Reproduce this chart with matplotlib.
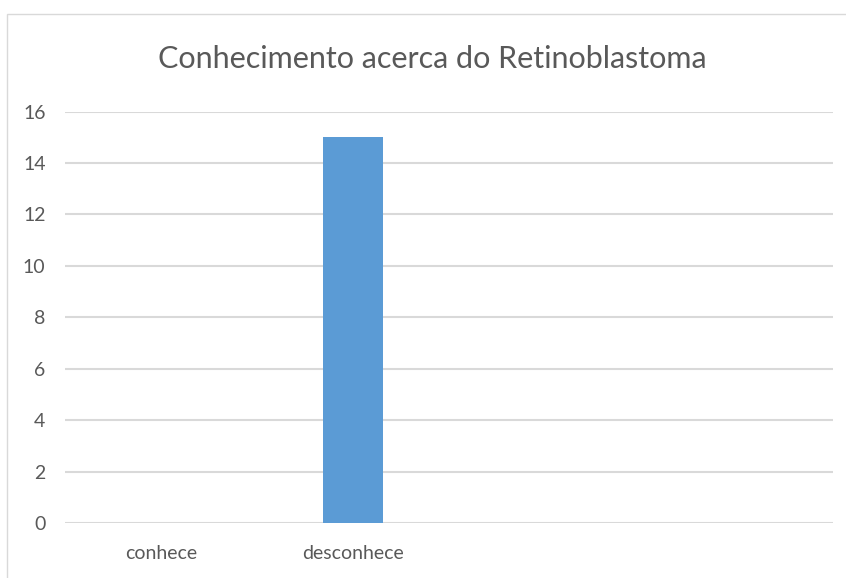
import matplotlib.pyplot as plt
from matplotlib.patches import Rectangle

# data
categories = ['conhece', 'desconhece', '', '']
values = [0, 15, 0, 0]
y_ticks = [0, 2, 4, 6, 8, 10, 12, 14, 16]
title = 'Conhecimento acerca do Retinoblastoma'

plt.rcParams['font.family'] = ['Lato', 'DejaVu Sans']

fig = plt.figure(figsize=(8.46, 5.78), dpi=100)
ax = fig.add_axes([0.0768, 0.0952, 0.9078, 0.7118])

# chart border (light gray, runs off the right and bottom)
fig.patches.append(Rectangle((7 / 846, -0.01), 1.0, 1 - 14 / 578 + 0.01,
                             transform=fig.transFigure, fill=False,
                             edgecolor='#d9d9d9', linewidth=1.0))

x = range(len(categories))
ax.bar(x, values, width=0.313, color='#5b9bd5', zorder=3)

ax.set_xlim(-0.5, len(categories) - 0.5)
ax.set_ylim(0, 16)
ax.set_yticks(y_ticks)
ax.set_xticks(list(x))
ax.set_xticklabels(categories)

ax.grid(axis='y', color='#d9d9d9', linewidth=1.5, zorder=0)
for s in ax.spines.values():
    s.set_visible(False)
ax.tick_params(axis='both', length=0, colors='#595959', labelsize=14)
ax.tick_params(axis='y', pad=14)
ax.tick_params(axis='x', pad=16)

fig.text(0.511, 1 - 59 / 578, title, ha='center', va='center', fontsize=22,
         color='#595959')

fig.savefig('out.png', dpi=100)
